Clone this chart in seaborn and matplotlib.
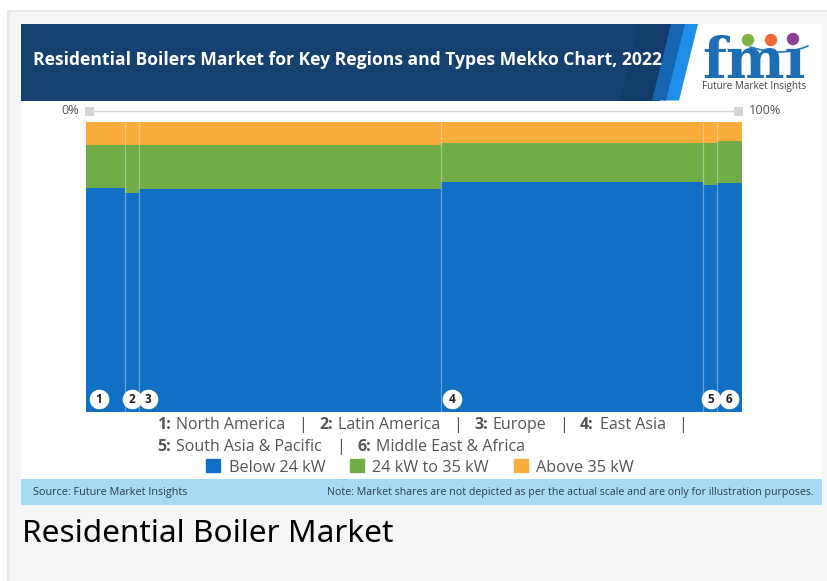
import numpy as np
import pandas as pd
import seaborn as sns
import matplotlib.pyplot as plt
from matplotlib.patches import Rectangle, Polygon, Circle, Patch

regions = ["North America", "Latin America", "Europe", "East Asia", "South Asia & Pacific", "Middle East & Africa"]
region_width = [5.9, 2.1, 46.0, 40.0, 2.1, 3.8]
below_24 = [77.2, 75.5, 76.7, 79.3, 78.4, 78.9]
from_24_to_35 = [14.9, 16.6, 15.4, 13.3, 14.5, 14.5]
above_35 = [7.9, 7.9, 7.9, 7.4, 7.1, 6.6]
type_names = ["Below 24 kW", "24 kW to 35 kW", "Above 35 kW"]

W, H = 827, 581
TEXT = "#555555"
colors = {"Below 24 kW": "#1170c6", "24 kW to 35 kW": "#70ad47", "Above 35 kW": "#fbad3c"}

sns.set_theme(style="white")
plt.rcParams["font.family"] = ["Open Sans", "DejaVu Sans"]

edges = np.concatenate([[0], np.cumsum(region_width)])
mids = (edges[:-1] + edges[1:]) / 2
df = pd.DataFrame({"mid": mids, "Below 24 kW": below_24, "24 kW to 35 kW": from_24_to_35, "Above 35 kW": above_35})
df = df.melt(id_vars="mid", var_name="type", value_name="share")

fig = plt.figure(figsize=(W / 100, H / 100), dpi=100, facecolor="#f6f6f6")

# page furniture, in pixel coordinates
bg = fig.add_axes([0, 0, 1, 1], zorder=0)
bg.set_xlim(0, W)
bg.set_ylim(H, 0)
bg.axis("off")


def box(x0, y0, x1, y1, color):
    bg.add_patch(Rectangle((x0, y0), x1 - x0, y1 - y0, color=color, lw=0))


box(0, 0, W, 10, "white")
box(0, 0, 7, H, "white")
box(7, 10, W, 12, "#e8e8e8")
box(7, 10, 10, H, "#e8e8e8")
box(21, 24, 822, 479, "white")
box(21, 479, 822, 505, "#a6dbf3")
box(21, 24, 660, 100.5, "#15406f")
bg.add_patch(Polygon([(683, 24), (698, 24), (679, 100.5), (664, 100.5)], color="#1e8fe8", lw=0))
bg.add_patch(Polygon([(668, 24), (685, 24), (666, 100.5), (650, 100.5)], color="#1565b0", lw=0))
bg.add_patch(Polygon([(640, 24), (671, 24), (652, 100.5), (620, 100.5)], color="#133c6a", lw=0))

bg.text(33, 60, "Residential Boilers Market for Key Regions and Types Mekko Chart, 2022",
        color="white", fontsize=12.65, fontweight="bold", va="center", ha="left")

# logo
bg.text(754.5, 78, "fm\u0131", color="#1c6fb5", fontsize=40, fontweight="bold", family="DejaVu Serif",
        ha="center", va="baseline")
for y in np.arange(41, 78, 3.6):
    box(700, y, 812, y + 0.8, "white")
bg.add_patch(Circle((748, 40), 6.2, color="#7fb241", lw=0))
bg.add_patch(Circle((771, 40), 6.2, color="#ef6a32", lw=0))
bg.add_patch(Circle((793, 39), 6.2, color="#8e3f98", lw=0))
sw = np.linspace(0, 1, 30)
bg.plot(750 + 58 * sw, 47 + 7 * np.sin(np.pi * sw * 0.75) - 6 * sw ** 2, color="#2a7fc0", lw=1.3)
bg.text(754.5, 86, "Future Market Insights", color="#444444", fontsize=7.1, ha="center", va="center")

# 0% - 100% scale
bg.plot([90, 738], [111, 111], color="#d9d9d9", lw=1)
box(85, 107, 94, 116, "#d4d4d4")
box(734, 107, 743, 116, "#d4d4d4")
bg.text(79, 110.5, "0%", color=TEXT, fontsize=9.2, ha="right", va="center")
bg.text(749, 110.5, "100%", color=TEXT, fontsize=9.2, ha="left", va="center")

# region key
key_rows = [
    (425, [(157, "1:", True), (176, regions[0], False), (298, "|", False), (319, "2:", True), (338, regions[1], False),
           (453, "|", False), (474, "3:", True), (493, regions[2], False), (559, "|", False), (580, "4:", True),
           (600, regions[3], False), (678, "|", False)]),
    (447, [(157, "5:", True), (176, regions[4], False), (336, "|", False), (357, "6:", True), (376, regions[5], False)]),
]
for y, row in key_rows:
    for x, label, bold in row:
        bg.text(x, y, label, color=TEXT, fontsize=11.55, ha="left", va="center",
                fontweight="bold" if bold else "normal")

bg.text(33, 492, "Source: Future Market Insights", color="#2f3f4a", fontsize=7.8, ha="left", va="center")
bg.text(814, 492, "Note: Market shares are not depicted as per the actual scale and are only for illustration purposes.",
        color="#2f3f4a", fontsize=7.65, ha="right", va="center")
bg.text(22, 534, "Residential Boiler Market", color="black", fontsize=22.75, family="Noto Sans", ha="left", va="center")

# the mekko itself
ax = fig.add_axes([86 / W, 1 - 411.5 / H, 656 / W, 289.5 / H], zorder=1)
ax.patch.set_alpha(0)
sns.histplot(data=df, x="mid", weights="share", hue="type", hue_order=type_names[::-1], multiple="stack",
             bins=edges.tolist(), palette=colors, alpha=1, linewidth=0, legend=False, ax=ax)
ax.set_xlim(edges[0], edges[-1])
ax.set_ylim(0, 100)
ax.axis("off")
ax.vlines(edges[1:-1], 0, 100, color="white", alpha=0.35, lw=0.9)

badge_offset = [2.0, 1.07, 1.37, 1.68, 1.22, 1.83]
badge_x = edges[:-1] + np.array(badge_offset)
ax.scatter(badge_x, np.full(6, 4.2), s=200, color="white", lw=0, zorder=5)
for i, x in enumerate(badge_x):
    ax.text(x, 4.1, str(i + 1), color="#222222", fontsize=8.5, fontweight="bold", ha="center", va="center", zorder=6)

# legend for the stack
handles = [Patch(color=colors[t], label=t) for t in type_names]
leg = fig.legend(handles=handles, loc="center", bbox_to_anchor=(420 / W, 1 - 467.5 / H), ncols=3, frameon=False,
                 fontsize=11.7, handlelength=0.86, handleheight=0.86, handletextpad=0.5, columnspacing=1.53,
                 labelcolor=TEXT)
leg.set_zorder(3)

fig.savefig("out.png", dpi=100, facecolor=fig.get_facecolor())
